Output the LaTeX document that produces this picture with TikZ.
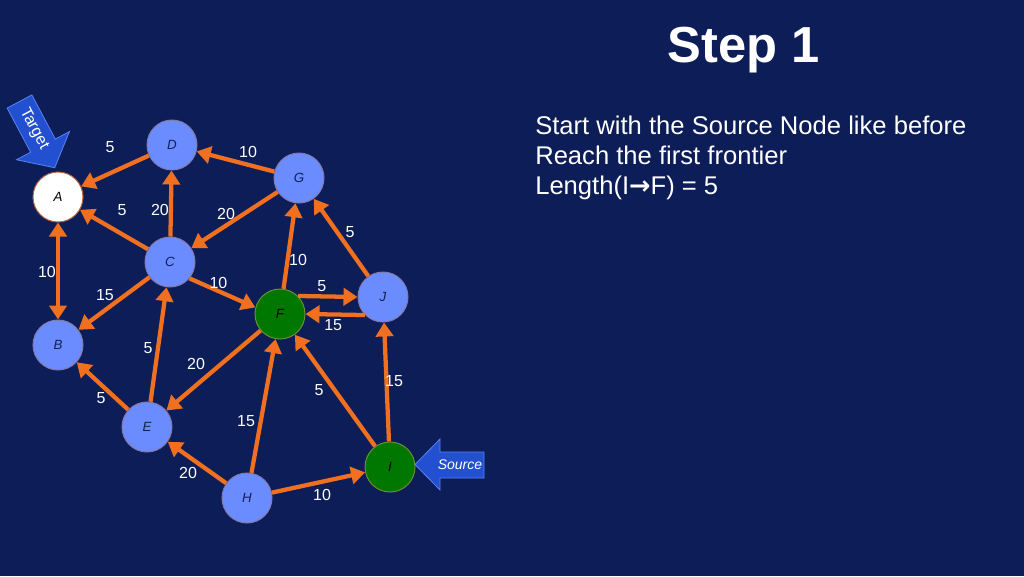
\documentclass[tikz,border=0pt]{standalone}
\usepackage{fontspec}
\setmainfont{Liberation Sans}
\newfontfamily\arrowfont{DejaVu Sans}
\usetikzlibrary{arrows.meta}
\definecolor{bg}{RGB}{12,29,88}
\definecolor{nodeblue}{RGB}{106,140,255}
\definecolor{nodeborder}{RGB}{130,120,170}
\definecolor{nodegreen}{RGB}{0,120,0}
\definecolor{greenborder}{RGB}{110,140,50}
\definecolor{brownborder}{RGB}{180,100,60}
\definecolor{edgeorange}{RGB}{240,112,32}
\definecolor{arrowblue}{RGB}{34,80,208}
\definecolor{arrowedge}{RGB}{90,130,240}
\definecolor{labelnavy}{RGB}{16,32,90}
\begin{document}
\begin{tikzpicture}[x=0.75pt,y=-0.75pt,
  vertex/.style={circle, minimum size=37.5pt, inner sep=0pt, line width=0.75pt,
    font=\itshape\fontsize{10}{12}\selectfont},
  bluenode/.style={vertex, fill=nodeblue, draw=nodeborder, text=labelnavy},
  greennode/.style={vertex, fill=nodegreen, draw=greenborder, text=black},
  whitenode/.style={vertex, fill=white, draw=brownborder, text=black},
  edge/.style={draw=edgeorange, line width=3.2pt, -{Triangle[length=10.5pt,width=13pt]}},
  edgeboth/.style={draw=edgeorange, line width=3.2pt, {Triangle[length=10.5pt,width=13pt]}-{Triangle[length=10.5pt,width=13pt]}},
  lbl/.style={text=white, font=\fontsize{12}{14}\selectfont, inner sep=0pt},
  bodytext/.style={anchor=base west, text=white, font=\fontsize{19.2}{23}\selectfont, inner sep=0pt},
  pointer/.style={fill=arrowblue, draw=arrowedge, line width=0.6pt, line join=miter}
]
\fill[bg] (0,0) rectangle (1024,576);
\useasboundingbox (0,0) rectangle (1024,576);

% title and text
\node[anchor=base, text=white, font=\bfseries\fontsize{38}{44}\selectfont, inner sep=0pt] (title) at (744,62) {Step 1};
\node[bodytext] (line1) at (535,134) {Start with the Source Node like before};
\node[bodytext] (line2) at (535,164) {Reach the first frontier};
\node[bodytext] (line3) at (535,194) {Length(I{\arrowfont\bfseries →}F) = 5};

% vertices
\node[whitenode] (A) at (58,197) {A};
\node[bluenode] (D) at (172,145) {D};
\node[bluenode] (G) at (299,178) {G};
\node[bluenode] (C) at (170,262) {C};
\node[bluenode] (B) at (58,345) {B};
\node[greennode] (F) at (280,314) {F};
\node[bluenode] (J) at (383,297) {J};
\node[bluenode] (E) at (147,427) {E};
\node[bluenode] (H) at (247,498) {H};
\node[greennode] (I) at (390,467) {I};

% edges
\draw[edge] (D) -- node[lbl, shift={(-5,-24)}] {5} (A);
\draw[edge] (G) -- node[lbl, shift={(12.5,-9.5)}] {10} (D);
\draw[edge] (C) -- node[lbl, shift={(8,-19.5)}] {5} (A);
\draw[edge] (C) -- node[lbl, shift={(-11,6.5)}] {20} (D);
\draw[edge] (G) -- node[lbl, shift={(-8.5,-6)}] {20} (C);
\draw[edgeboth] (A) -- node[lbl, shift={(-11,1)}] {10} (B);
\draw[edge] (C) -- node[lbl, shift={(-9,-8.5)}] {15} (B);
\draw[edge] (C.-40) -- node[lbl, shift={(-4,-10)}] {10} (F.165);
\draw[edge] (F) -- node[lbl, shift={(8.5,14)}] {10} (G);
\draw[edge] (J) -- node[lbl, shift={(9,-5.5)}] {5} (G);
\draw[edge] (F.45) -- node[lbl, shift={(-6,-10.6)}] {5} (J.180);
\draw[edge] (J.225) -- node[lbl, shift={(-2,10.6)}] {15} (F.0);
\draw[edge] (F) -- node[lbl, shift={(-17.5,-6.5)}] {20} (E);
\draw[edge] (E) -- node[lbl, shift={(-10.5,3.5)}] {5} (C);
\draw[edge] (E) -- node[lbl, shift={(-1.5,12)}] {5} (B);
\draw[edge] (H) -- node[lbl, shift={(-17.5,15)}] {15} (F);
\draw[edge] (I) -- node[lbl, shift={(-16,-0.5)}] {5} (F);
\draw[edge] (I) -- node[lbl, shift={(7.5,-1)}] {15} (J);
\draw[edge] (H) -- node[lbl, shift={(-9,10.5)}] {20} (E);
\draw[edge] (H) -- node[lbl, shift={(3.5,12.5)}] {10} (I);

% target pointer
\begin{scope}[shift={(19.5,101.5)}, rotate=-62]
  \draw[pointer] (0,-14) -- (50,-14) -- (50,-30) -- (75,0) -- (50,30) -- (50,14) -- (0,14) -- cycle;
  \node[text=white, font=\fontsize{12}{14}\selectfont, rotate=-62, inner sep=0pt] (target) at (31,0) {Target};
\end{scope}

% source pointer
\draw[pointer] (484,452) -- (440,452) -- (440,439) -- (415,464.5) -- (440,490) -- (440,478) -- (484,478) -- cycle;
\node[text=white, font=\itshape\fontsize{10.5}{12}\selectfont, inner sep=0pt] (source) at (460,465) {Source};
\end{tikzpicture}
\end{document}
